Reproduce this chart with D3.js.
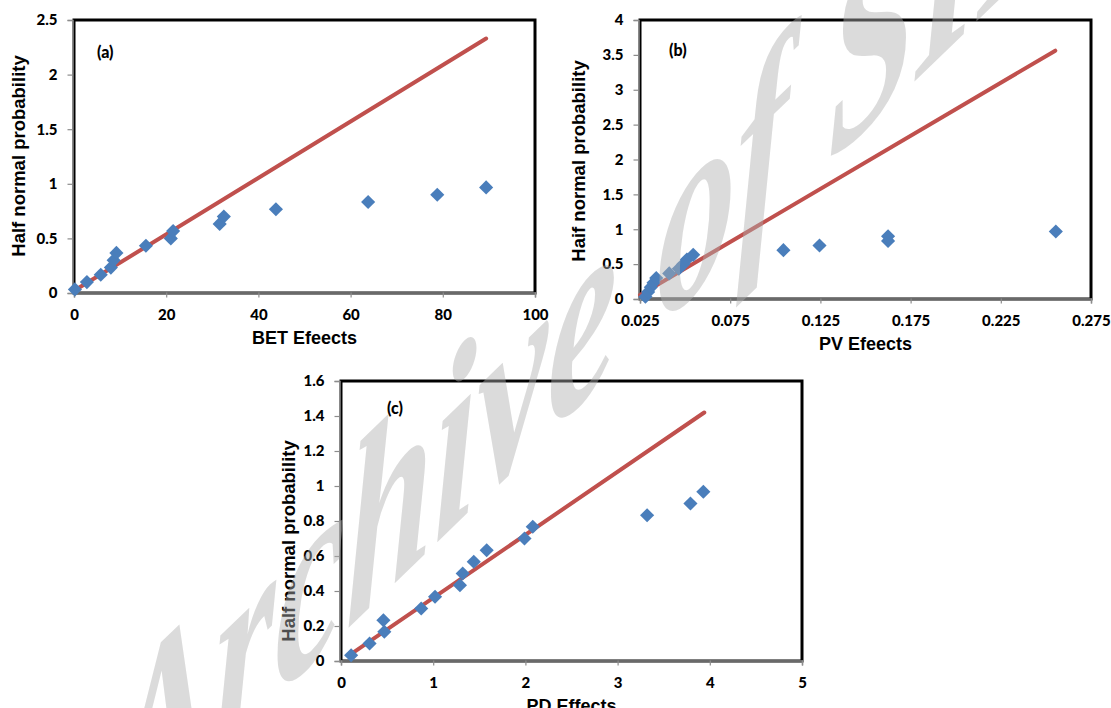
<!DOCTYPE html>
<html>
<head>
<meta charset="utf-8">
<script src="https://cdn.jsdelivr.net/npm/d3@7"></script>
<style>
  html, body { margin: 0; padding: 0; background: #fff; }
  svg { display: block; }
</style>
</head>
<body>
<div id="chart"></div>
<script>
// ---- data ----
const halfNormalProb = [0.033, 0.1, 0.167, 0.233, 0.3, 0.367, 0.433, 0.5, 0.567, 0.633, 0.7, 0.767, 0.833, 0.9, 0.967];

const betEffects = [0.2, 2.8, 5.8, 8.0, 8.6, 9.2, 15.6, 21.0, 21.5, 31.6, 32.5, 43.8, 63.8, 78.8, 89.4];
const pvEffects  = [0.028, 0.0295, 0.031, 0.0325, 0.034, 0.0412, 0.0465, 0.049, 0.051, 0.0545, 0.1045, 0.1245, 0.1625, 0.1625, 0.2555];
const pdEffects  = [0.11, 0.31, 0.47, 0.46, 0.87, 1.02, 1.29, 1.32, 1.44, 1.58, 1.99, 2.08, 3.32, 3.79, 3.93];

const betFit = [[0, 0.02], [89.4, 2.33]];
const pvFit  = [[0.025, 0.057], [0.2552, 3.56]];
const pdFit  = [[0.104, 0.038], [3.94, 1.42]];

const betXTicks = [0, 20, 40, 60, 80, 100];
const betYTicks = [0, 0.5, 1, 1.5, 2, 2.5];
const pvXTicks  = [0.025, 0.075, 0.125, 0.175, 0.225, 0.275];
const pvYTicks  = [0, 0.5, 1, 1.5, 2, 2.5, 3, 3.5, 4];
const pdXTicks  = [0, 1, 2, 3, 4, 5];
const pdYTicks  = [0, 0.2, 0.4, 0.6, 0.8, 1, 1.2, 1.4, 1.6];

const panelLabels = ["(a)", "(b)", "(c)"];
const xTitles = ["BET Efeects", "PV Efeects", "PD Effects"];
const yTitles = ["Half normal probability", "Haif normal probability", "Half normal probability"];
const watermarkText = "Archive of SID";

// ---- drawing ----
const W = 1111, H = 708;
const svg = d3.select("#chart").append("svg").attr("width", W).attr("height", H);
svg.append("rect").attr("width", W).attr("height", H).attr("fill", "#fff");

const panels = [
  { box: {l: 74, t: 20, r: 535, b: 293}, xd: [0, 100], yd: [0, 2.5],
    xt: betXTicks, yt: betYTicks, xf: d3.format("d"), yf: d => String(d),
    xs: betEffects, fit: betFit, label: panelLabels[0], lab: [97, 58],
    xTitle: xTitles[0], yTitle: yTitles[0], yTitleX: 25, yTitleY: 156 },
  { box: {l: 640, t: 20, r: 1091, b: 299}, xd: [0.025, 0.275], yd: [0, 4],
    xt: pvXTicks, yt: pvYTicks, xf: d3.format(".3f"), yf: d => String(d),
    xs: pvEffects, fit: pvFit, label: panelLabels[1], lab: [669, 56],
    xTitle: xTitles[1], yTitle: yTitles[1], yTitleX: 585, yTitleY: 161 },
  { box: {l: 341, t: 381, r: 802, b: 661}, xd: [0, 5], yd: [0, 1.6],
    xt: pdXTicks, yt: pdYTicks, xf: d3.format("d"), yf: d => String(+d.toFixed(1)),
    xs: pdEffects, fit: pdFit, label: panelLabels[2], lab: [387, 414],
    xTitle: xTitles[2], yTitle: yTitles[2], yTitleX: 295, yTitleY: 541 }
];

const tickFont = "Lato, 'Open Sans', sans-serif";
const titleFont = "'Liberation Sans', Arial, sans-serif";

panels.forEach(p => {
  const g = svg.append("g");
  const x = d3.scaleLinear().domain(p.xd).range([p.box.l, p.box.r]);
  const y = d3.scaleLinear().domain(p.yd).range([p.box.b, p.box.t]);

  g.append("rect")
    .attr("x", p.box.l).attr("y", p.box.t)
    .attr("width", p.box.r - p.box.l).attr("height", p.box.b - p.box.t)
    .attr("fill", "none").attr("stroke", "#000").attr("stroke-width", 3);

  const ax = g.append("g").attr("transform", `translate(${p.box.l - 1.5},0)`)
    .call(d3.axisLeft(y).tickValues(p.yt).tickSize(5).tickPadding(10).tickFormat(p.yf));
  const bx = g.append("g").attr("transform", `translate(0,${p.box.b - 0.5})`)
    .call(d3.axisBottom(x).tickValues(p.xt).tickSize(5).tickPadding(12).tickFormat(p.xf));
  [ax, bx].forEach(a => {
    a.select(".domain").attr("stroke", "#8c8c8c").attr("stroke-width", 1.5);
    a.selectAll(".tick line").attr("stroke", "#8c8c8c").attr("stroke-width", 1.2);
    a.selectAll(".tick text").attr("fill", "#000")
      .style("font-family", tickFont).style("font-weight", "900").style("font-size", "15px");
  });

  g.append("path")
    .datum(p.fit)
    .attr("d", d3.line().x(d => x(d[0])).y(d => y(d[1])))
    .attr("fill", "none").attr("stroke", "#C0504D").attr("stroke-width", 4)
    .attr("stroke-linecap", "round");

  const sym = d3.symbol().type(d3.symbolSquare).size(100);
  g.append("g").selectAll("path")
    .data(p.xs.map((v, i) => [v, halfNormalProb[i]]))
    .join("path")
    .attr("d", sym)
    .attr("transform", d => `translate(${x(d[0])},${y(d[1])}) rotate(45)`)
    .attr("fill", "#4A7EBB");

  g.append("text").attr("x", p.lab[0]).attr("y", p.lab[1])
    .text(p.label)
    .style("font-family", tickFont).style("font-weight", "900").style("font-size", "16px");

  g.append("text")
    .attr("x", (p.box.l + p.box.r) / 2).attr("y", p.box.b + 51)
    .attr("text-anchor", "middle")
    .text(p.xTitle)
    .style("font-family", titleFont).style("font-weight", "700").style("font-size", "18px");
  g.append("text")
    .attr("transform", `translate(${p.yTitleX},${p.yTitleY}) rotate(-90)`)
    .attr("text-anchor", "middle")
    .text(p.yTitle)
    .style("font-family", titleFont).style("font-weight", "700").style("font-size", "18.5px");
});

// watermark
svg.append("text")
  .attr("transform", "translate(600,385) skewY(-44) scale(1,1.6)")
  .attr("text-anchor", "middle")
  .text(watermarkText)
  .attr("fill", "#b0b0b0").attr("fill-opacity", 0.45)
  .style("font-family", "'Liberation Serif', 'DejaVu Serif', serif")
  .style("font-style", "italic").style("font-weight", "700").style("font-size", "158px");
</script>
</body>
</html>
